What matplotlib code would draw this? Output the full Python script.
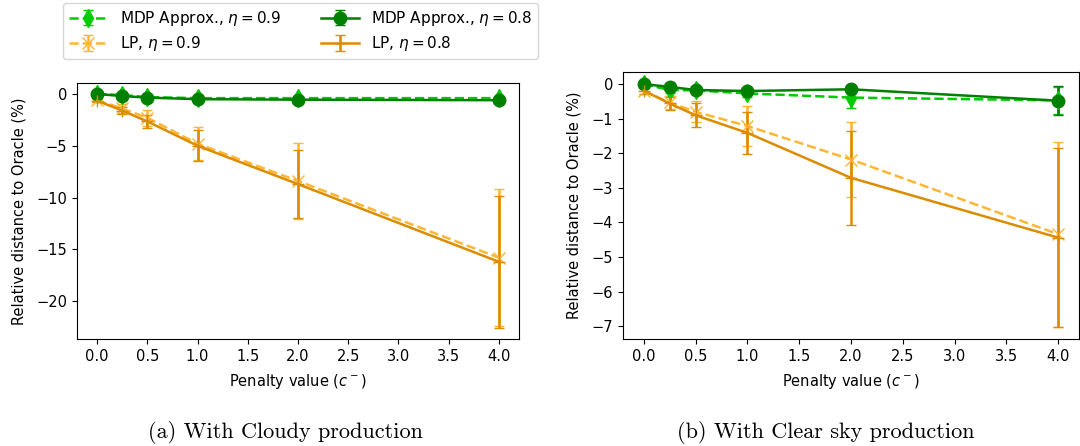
import numpy as np
import matplotlib
matplotlib.use("Agg")
import matplotlib.pyplot as plt

# ========= data =========
penalty = [0.0, 0.25, 0.5, 1.0, 2.0, 4.0]

# (a) Cloudy production
cloudy_mdp09 = [0.0, -0.1, -0.3, -0.4, -0.4, -0.4]
cloudy_mdp09_err = [0.05, 0.05, 0.1, 0.1, 0.1, 0.1]
cloudy_mdp08 = [0.0, -0.2, -0.35, -0.5, -0.55, -0.6]
cloudy_mdp08_err = [0.05, 0.05, 0.1, 0.1, 0.1, 0.1]
cloudy_lp09 = [-0.6, -1.4, -2.3, -4.8, -8.4, -15.8]
cloudy_lp09_err = [0.15, 0.4, 0.75, 1.6, 3.7, 6.6]
cloudy_lp08 = [-0.65, -1.6, -2.65, -5.0, -8.7, -16.2]
cloudy_lp08_err = [0.15, 0.35, 0.65, 1.5, 3.3, 6.4]

# (b) Clear sky production
clear_mdp09 = [0.0, -0.17, -0.18, -0.27, -0.39, -0.47]
clear_mdp09_err = [0.05, 0.1, 0.1, 0.1, 0.3, 0.4]
clear_mdp08 = [0.0, -0.08, -0.17, -0.2, -0.15, -0.48]
clear_mdp08_err = [0.05, 0.05, 0.1, 0.08, 0.1, 0.42]
clear_lp09 = [-0.2, -0.53, -0.8, -1.21, -2.18, -4.34]
clear_lp09_err = [0.1, 0.2, 0.3, 0.58, 1.09, 2.68]
clear_lp08 = [-0.19, -0.56, -0.9, -1.41, -2.71, -4.44]
clear_lp08_err = [0.1, 0.2, 0.35, 0.6, 1.35, 2.58]

xticks = [0.0, 0.5, 1.0, 1.5, 2.0, 2.5, 3.0, 3.5, 4.0]

C_LIME = "#00cc00"
C_GREEN = "#008000"
C_LORANGE = "#ffb733"
C_DORANGE = "#dc8c00"

fig = plt.figure(figsize=(10.8, 4.46), dpi=100)
ax1 = fig.add_axes([77/1080, 107/446, 442/1080, 256/446])
ax2 = fig.add_axes([623/1080, 107/446, 456/1080, 267/446])


def draw(ax, mdp09, e1, mdp08, e2, lp09, e3, lp08, e4):
    h1 = ax.errorbar(penalty, mdp09, yerr=e1, fmt="--d", color=C_LIME,
                     lw=1.8, ms=9, capsize=3.5, label=r"MDP Approx., $\eta = 0.9$")
    h3 = ax.errorbar(penalty, lp09, yerr=e3, fmt="--x", color=C_LORANGE,
                     lw=1.8, ms=8, capsize=3.5, label=r"LP, $\eta = 0.9$")
    h2 = ax.errorbar(penalty, mdp08, yerr=e2, fmt="-o", color=C_GREEN,
                     lw=1.8, ms=9, capsize=3.5, label=r"MDP Approx., $\eta = 0.8$")
    h4 = ax.errorbar(penalty, lp08, yerr=e4, fmt="-+", color=C_DORANGE,
                     lw=1.8, ms=8, capsize=3.5, label=r"LP, $\eta = 0.8$")
    ax.set_xlim(-0.2, 4.2)
    ax.set_xticks(xticks)
    ax.set_xlabel(r"Penalty value ($c^-$)", fontsize=10.5, labelpad=6)
    ax.set_ylabel("Relative distance to Oracle (%)", fontsize=10.5, labelpad=7)
    ax.tick_params(labelsize=10.5)
    return [h1, h3, h2, h4]


handles = draw(ax1, cloudy_mdp09, cloudy_mdp09_err, cloudy_mdp08, cloudy_mdp08_err,
               cloudy_lp09, cloudy_lp09_err, cloudy_lp08, cloudy_lp08_err)
ax1.set_ylim(-23.65, 1.06)
ax1.set_yticks([0, -5, -10, -15, -20])

draw(ax2, clear_mdp09, clear_mdp09_err, clear_mdp08, clear_mdp08_err,
     clear_lp09, clear_lp09_err, clear_lp08, clear_lp08_err)
ax2.set_ylim(-7.37, 0.35)
ax2.set_yticks([0, -1, -2, -3, -4, -5, -6, -7])

fig.legend(handles, [h.get_label() for h in handles], ncol=2, loc="upper left",
           bbox_to_anchor=(63/1080, 1 - 3/446), borderaxespad=0, fontsize=11,
           columnspacing=2.6, handlelength=2.5, labelspacing=0.4)

fig.text(285/1080, 1 - 432/446, "(a) With Cloudy production", family="cmr10",
         fontsize=16, ha="center", va="center")
fig.text(826/1080, 1 - 432/446, "(b) With Clear sky production", family="cmr10",
         fontsize=16, ha="center", va="center")

fig.savefig("out.png", dpi=100)
